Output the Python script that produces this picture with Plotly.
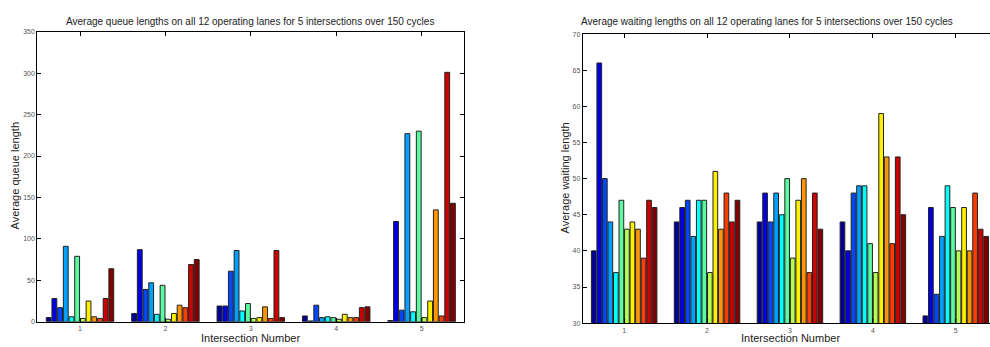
import plotly.graph_objects as go

intersections = [1, 2, 3, 4, 5]
lanes = [f"Lane {i}" for i in range(1, 13)]

# rows: intersection 1..5, columns: lane 1..12
queue_by_intersection = [
    [5, 28, 17, 91, 6, 79, 4, 25, 6, 4, 28, 64],
    [10, 87, 39, 47, 9, 44, 3, 10, 20, 17, 69, 75],
    [19, 19, 61, 86, 13, 22, 4, 5, 18, 4, 86, 5],
    [7, 1, 20, 5, 6, 5, 3, 9, 5, 5, 17, 18],
    [1.5, 121, 14, 227, 12, 230, 5, 25, 135, 7, 301, 143],
]
wait_by_intersection = [
    [40, 66, 50, 44, 37, 47, 43, 44, 43, 39, 47, 46],
    [44, 46, 47, 42, 47, 47, 37, 51, 43, 48, 44, 47],
    [44, 48, 44, 48, 45, 50, 39, 47, 50, 37, 48, 43],
    [44, 40, 48, 49, 49, 41, 37, 59, 53, 41, 53, 45],
    [31, 46, 34, 42, 49, 46, 40, 46, 40, 48, 43, 42],
]

queue_ticks = [0, 50, 100, 150, 200, 250, 300, 350]
wait_ticks = [30, 35, 40, 45, 50, 55, 60, 65, 70]

# jet-like palette as rendered in the reference
colors = [
    "rgb(0,0,150)", "rgb(0,0,225)", "rgb(0,70,250)", "rgb(0,160,255)",
    "rgb(0,255,255)", "rgb(90,250,160)", "rgb(180,255,80)", "rgb(255,240,0)",
    "rgb(255,150,0)", "rgb(255,60,0)", "rgb(205,0,0)", "rgb(128,0,0)",
]

fig = go.Figure()
for k in range(12):
    fig.add_trace(go.Bar(
        x=intersections, y=[row[k] for row in queue_by_intersection],
        marker=dict(color=colors[k], line=dict(color="#222", width=1)),
        xaxis="x", yaxis="y", offsetgroup=str(k), showlegend=False, name=lanes[k]))
for k in range(12):
    fig.add_trace(go.Bar(
        x=intersections, y=[row[k] for row in wait_by_intersection],
        marker=dict(color=colors[k], line=dict(color="#222", width=1)),
        xaxis="x2", yaxis="y2", offsetgroup=str(k), showlegend=False, name=lanes[k]))

W, H = 990, 347
tickfont = dict(family="Liberation Sans, Arial", size=7, color="#555")
axis_common = dict(showline=True, linecolor="black", linewidth=1, ticks="inside",
                   ticklen=4, tickcolor="black", showgrid=False, zeroline=False,
                   tickfont=tickfont)

fig.update_layout(
    width=W, height=H, margin=dict(l=0, r=0, t=0, b=0),
    paper_bgcolor="white", plot_bgcolor="white",
    barmode="group", bargap=0.2, bargroupgap=0.15,
    font=dict(family="Liberation Sans, Arial", color="#222"),
    xaxis=dict(domain=[37.3 / W, 464.3 / W], range=[0.5, 5.5], tickvals=intersections,
               mirror="ticks", anchor="y", **axis_common),
    yaxis=dict(domain=[22.7 / H, 318.7 / H], range=[0, 350], tickvals=queue_ticks,
               mirror="ticks", anchor="x", **axis_common),
    xaxis2=dict(domain=[582.7 / W, 1.0], range=[0.5, 5.413], tickvals=intersections,
                mirror="ticks", anchor="y2", **axis_common),
    yaxis2=dict(domain=[21.3 / H, 316.3 / H], range=[30, 70], tickvals=wait_ticks,
                mirror=False, anchor="x2", **axis_common),
)

tfont = dict(family="Liberation Sans, Arial", size=10, color="#222")
lfont = dict(family="Liberation Sans, Arial", size=11, color="#222")
ann = [
    dict(text="Average queue lengths on all 12 operating lanes for 5 intersections over 150 cycles",
         x=250 / W, y=1 - 18 / H, font=tfont),
    dict(text="Average waiting lengths on all 12 operating lanes for 5 intersections over 150 cycles",
         x=767 / W, y=1 - 18 / H, font=tfont),
    dict(text="Intersection Number", x=250 / W, y=1 - 341 / H, font=lfont),
    dict(text="Intersection Number", x=790 / W, y=1 - 341 / H, font=lfont),
    dict(text="Average queue length", x=15 / W, y=1 - 176 / H, font=lfont, textangle=-90),
    dict(text="Average waiting length", x=565 / W, y=1 - 178 / H, font=lfont, textangle=-90),
]
for a in ann:
    fig.add_annotation(xref="paper", yref="paper", showarrow=False,
                       xanchor="center", yanchor="middle", **a)

fig.write_html(
    "out.html",
    config={"displayModeBar": False},
    post_script="document.body.style.margin='0';document.body.style.overflow='hidden';",
)
